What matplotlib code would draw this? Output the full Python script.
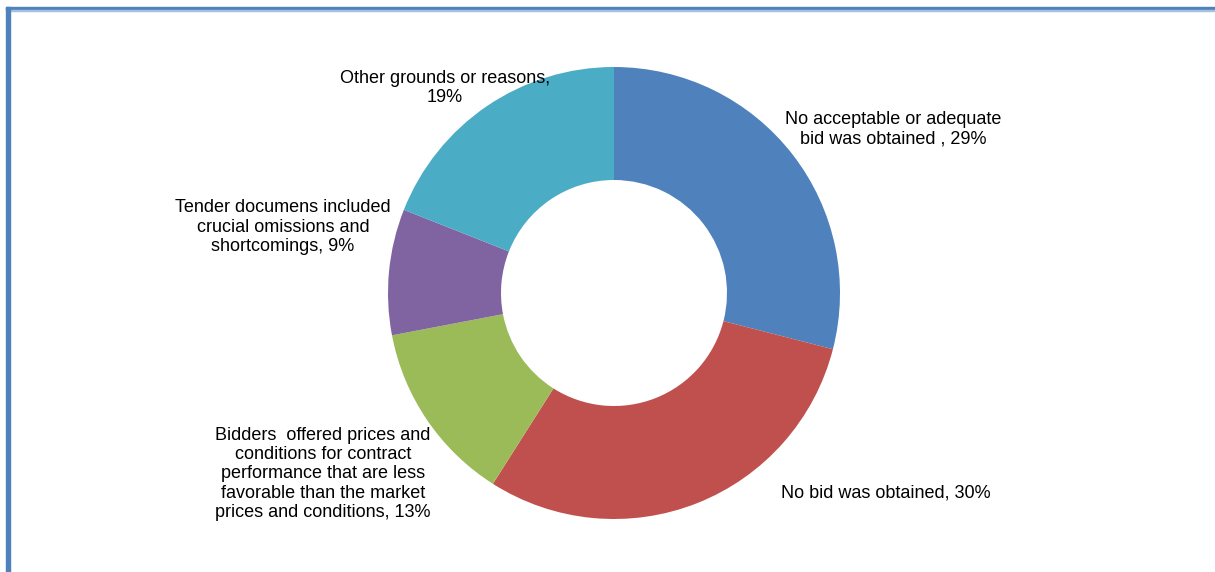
import matplotlib.pyplot as plt
from matplotlib.patches import Rectangle

reasons = [
    "No acceptable or adequate\nbid was obtained , 29%",
    "No bid was obtained, 30%",
    "Bidders  offered prices and\nconditions for contract\nperformance that are less\nfavorable than the market\nprices and conditions, 13%",
    "Tender documens included\ncrucial omissions and\nshortcomings, 9%",
    "Other grounds or reasons,\n19%",
]
shares = [29, 30, 13, 9, 19]
colors = ["#4F81BD", "#C0504D", "#9BBB59", "#8064A2", "#4BACC6"]

W, H = 1215, 572
fig = plt.figure(figsize=(W / 100, H / 100), dpi=100)
ax = fig.add_axes([0, 0, 1, 1])

plt.rcParams["font.family"] = ["Liberation Sans", "DejaVu Sans"]

# donut, clockwise from twelve o'clock
ax.pie(shares, colors=colors, startangle=90, counterclock=False,
       center=(614, H - 293), radius=226, frame=True,
       wedgeprops=dict(width=113, linewidth=0))
ax.set_xlim(0, W)
ax.set_ylim(0, H)
ax.axis("off")

label_pos = [(893, 129), (886, 493), (323, 474), (283, 227), (445, 88)]
for text, (x, y) in zip(reasons, label_pos):
    ax.text(x, H - y, text, ha="center", va="center", fontsize=13,
            color="#000000", linespacing=1.17)

# frame along the top and left edges
fig.patches.append(Rectangle((6, H - 10), W - 6, 3, transform=None,
                             color="#4F81BD", zorder=5))
fig.patches.append(Rectangle((10, H - 11), W - 10, 1.5, transform=None,
                             color="#A7C0DE", zorder=5))
fig.patches.append(Rectangle((6, 0), 4, H - 7, transform=None,
                             color="#4F81BD", zorder=5))

fig.savefig("out.png", dpi=100)
